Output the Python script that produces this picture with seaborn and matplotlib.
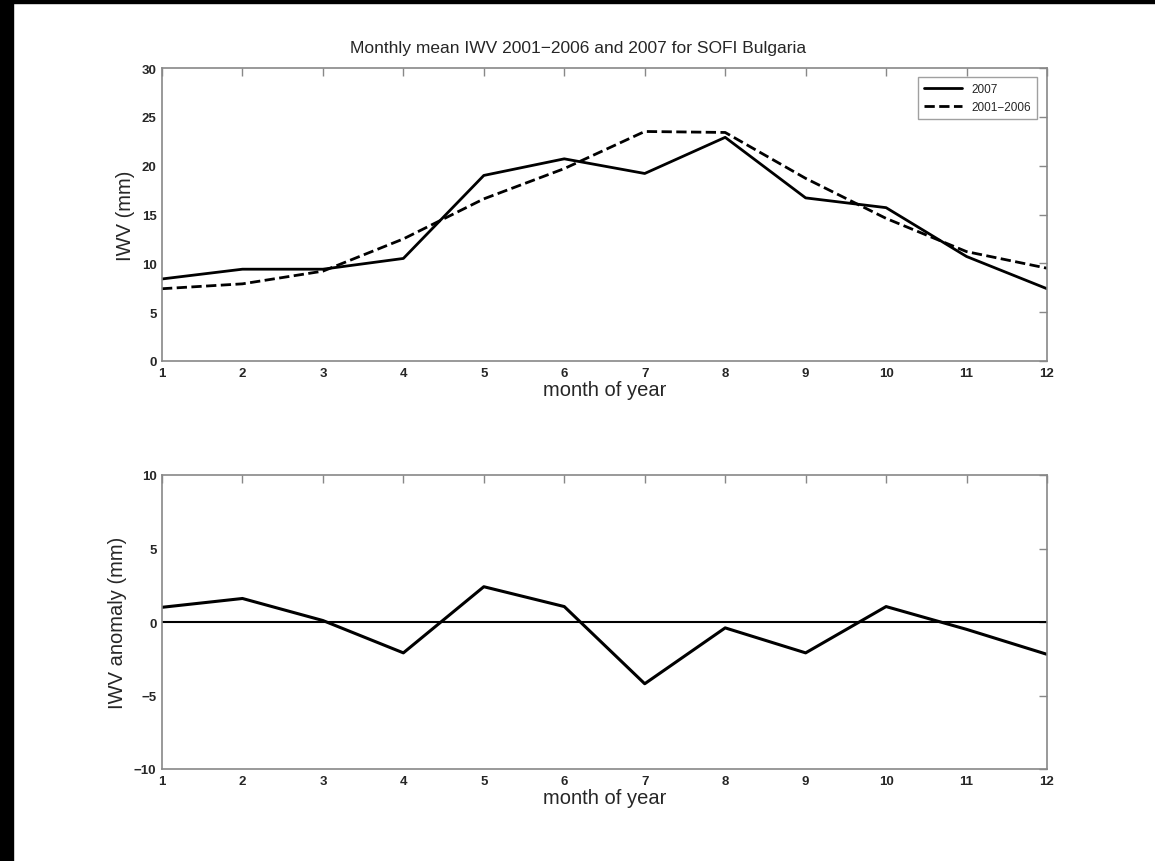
import matplotlib
matplotlib.use("Agg")
import matplotlib.pyplot as plt
import seaborn as sns
import pandas as pd
from matplotlib.patches import Rectangle

months = [1, 2, 3, 4, 5, 6, 7, 8, 9, 10, 11, 12]
iwv_2007 = [8.4, 9.4, 9.4, 10.5, 19.0, 20.7, 19.2, 22.9, 16.7, 15.7, 10.7, 7.4]
iwv_2001_2006 = [7.4, 7.9, 9.2, 12.5, 16.6, 19.7, 23.5, 23.4, 18.7, 14.6, 11.2, 9.5]
anomaly = [1.0, 1.6, 0.1, -2.1, 2.4, 1.05, -4.2, -0.4, -2.1, 1.05, -0.5, -2.2]

sns.set_theme(style="white")
plt.rcParams['font.family'] = ['Liberation Sans', 'DejaVu Sans']

fig = plt.figure(figsize=(11.55, 8.62), dpi=100)
W, H = 1155, 862

def axes_px(left, top, right, bottom):
    return fig.add_axes([left / W, 1 - bottom / H, (right - left) / W, (bottom - top) / H])

ax1 = axes_px(162, 69, 1047, 362)
ax2 = axes_px(162, 476, 1047, 770)

df = pd.DataFrame({"month": months, "y2007": iwv_2007, "ymean": iwv_2001_2006, "anom": anomaly})

sns.lineplot(data=df, x="month", y="y2007", ax=ax1, color="black", lw=2.0, label="2007")
sns.lineplot(data=df, x="month", y="ymean", ax=ax1, color="black", lw=2.0, ls="--", label="2001\u22122006")
sns.lineplot(data=df, x="month", y="anom", ax=ax2, color="black", lw=2.2, legend=False)
ax2.axhline(0, color="black", lw=1.5)

for ax, ylim, yt, ylab in [(ax1, (0, 30), [0, 5, 10, 15, 20, 25, 30], "IWV (mm)"),
                           (ax2, (-10, 10), [-10, -5, 0, 5, 10], "IWV anomaly (mm)")]:
    ax.set_xlim(1, 12)
    ax.set_ylim(*ylim)
    ax.set_xticks(months)
    ax.set_yticks(yt)
    ax.set_yticklabels([str(v).replace('-', '\u2212') for v in yt])
    ax.tick_params(direction="in", length=6, width=1, color="#888888",
                   labelsize=9.5, top=True, right=True, pad=4)
    for s in ax.spines.values():
        s.set_visible(True)
        s.set_color("#888888")
        s.set_linewidth(1.2)
    ax.set_xlabel("month of year", fontsize=14.5, labelpad=1)
    ax.set_ylabel(ylab, fontsize=14.5, labelpad=5)
    for lbl in ax.get_xticklabels() + ax.get_yticklabels():
        lbl.set_fontweight("bold")

fig.text(578 / W, 1 - 48 / H, "Monthly mean IWV 2001\u22122006 and 2007 for SOFI Bulgaria",
         fontsize=12.5, ha="center", va="center")
leg = ax1.legend(loc="upper right", fontsize=8.5, frameon=True, fancybox=False,
                 edgecolor="#888888", handlelength=3.2, borderpad=0.5, labelspacing=0.5,
                 bbox_to_anchor=(0.995, 0.99))
leg.get_frame().set_linewidth(1.0)

# black border bands of the scanned image
fig.patches.append(Rectangle((0, 0), 13 / W, 1, transform=fig.transFigure, color="black", zorder=10))
fig.patches.append(Rectangle((0, 1 - 4 / H), 1, 4 / H, transform=fig.transFigure, color="black", zorder=10))

fig.savefig("out.png", dpi=100, facecolor="white")
